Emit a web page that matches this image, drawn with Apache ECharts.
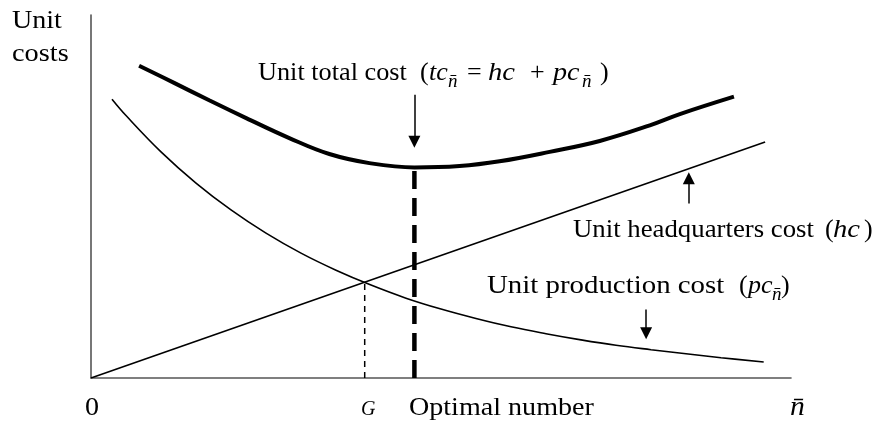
<!DOCTYPE html>
<html>
<head>
<meta charset="utf-8">
<script src="https://cdn.jsdelivr.net/npm/echarts@6/dist/echarts.min.js"></script>
<style>html,body{margin:0;padding:0;background:#fff}#c{width:874px;height:424px}</style>
</head>
<body>
<div id="c"></div>
<script>
// ---- data (values in chart units: x 0..100, y 0..100) ----
const hqX = [0, 96.3];
const hqY = [0, 65.0];
const prodX = [3, 5, 10, 15, 20, 25, 30, 35, 40, 45, 50, 55, 60, 65, 70, 75, 80, 85, 90, 96.1];
const prodY = [76.8, 72.3, 62.3, 53.7, 46.3, 39.9, 34.4, 29.7, 25.6, 22.0, 19.0, 16.4, 14.1, 12.2, 10.5, 9.0, 7.8, 6.7, 5.6, 4.4];
const totalX = [6.87, 11.87, 16.88, 22.17, 28.33, 34.05, 39.77, 46.21, 52.65, 58.37, 65.52, 72.68, 79.83, 84.12, 91.85];
const totalY = [86.0, 81.3, 76.5, 71.6, 66.1, 61.7, 59.2, 58.0, 58.4, 59.7, 62.3, 65.3, 69.6, 72.7, 77.5];
const gPoint = [39.1, 26.3];
const optPoint = [46.2, 58.0];
// arrows: [x, yFrom, yTo]
const arrowTotal = [46.2, 78.0, 65.1];
const arrowHQ = [85.4, 48.1, 55.0];
const arrowProd = [79.3, 18.9, 12.3];

const zip = (xs, ys) => xs.map((x, i) => [x, ys[i]]);
const arrowCoords = a => ({coords: [[a[0], a[1]], [a[0], a[2]]]});

const FONT = '"Liberation Serif","Times New Roman",serif';
function T(text, x, baseline, size, italic, sx, align) {
  return {
    type: 'text', silent: true,
    x: x, y: baseline - 0.3375 * size, scaleX: sx || 1, scaleY: 1,
    style: {
      text: text, x: 0, y: 0,
      font: (italic ? 'italic ' : '') + size + 'px ' + FONT,
      fill: '#000', align: align || 'left', verticalAlign: 'middle'
    }
  };
}
const NB = 'n\u0304';

const chart = echarts.init(document.getElementById('c'), null, {renderer: 'canvas'});
const axisCommon = {
  type: 'value', min: 0, max: 100,
  axisLine: {show: true, onZero: false, lineStyle: {color: '#555', width: 1.6}},
  axisTick: {show: false}, axisLabel: {show: false}, splitLine: {show: false}
};
chart.setOption({
  animation: false,
  backgroundColor: '#fff',
  grid: {left: 91, right: 83, top: 15, bottom: 46},
  xAxis: Object.assign({}, axisCommon),
  yAxis: Object.assign({}, axisCommon),
  series: [
    {type: 'line', data: zip(hqX, hqY), symbol: 'none', lineStyle: {color: '#000', width: 1.6}},
    {type: 'line', data: zip(prodX, prodY), symbol: 'none', smooth: 0.4, lineStyle: {color: '#000', width: 1.6}},
    {type: 'line', data: zip(totalX, totalY), symbol: 'none', smooth: 0.4, lineStyle: {color: '#000', width: 4}},
    {type: 'line', data: [[gPoint[0], 0], gPoint], symbol: 'none', lineStyle: {color: '#000', width: 1.5, type: [6, 5]}},
    {type: 'line', data: [[optPoint[0], 0], optPoint], symbol: 'none', lineStyle: {color: '#000', width: 4.5, type: [18, 9]}},
    {type: 'lines', coordinateSystem: 'cartesian2d', symbol: ['none', 'triangle'], symbolSize: [10, 12],
     lineStyle: {color: '#000', width: 1.5, opacity: 1, curveness: 0},
     data: [arrowCoords(arrowTotal), arrowCoords(arrowHQ), arrowCoords(arrowProd)]}
  ],
  graphic: [
    T('Unit', 12, 30, 26, false, 1.08), T('costs', 12, 63, 26, false, 1.09),
    T('Unit total cost', 258, 82, 26, false, 1.01),
    T('(', 420, 82, 26), T('tc', 429, 82, 26, true), T(NB, 448, 88, 19, true),
    T('=', 467, 82, 26), T('hc', 488, 82, 26, true, 1.1), T('+', 530, 82, 26),
    T('pc', 553, 82, 26, true, 1.08), T(NB, 582, 88, 19, true), T(')', 600, 82, 26),
    T('Unit headquarters cost', 573, 239, 26, false, 1.03),
    T('(', 825, 239, 26), T('hc', 833, 239, 26, true, 1.1), T(')', 864, 239, 26),
    T('Unit production cost', 487, 295, 26, false, 1.11),
    T('(', 739, 295, 26), T('pc', 748, 295, 26, true), T(NB, 772, 301, 19, true), T(')', 781, 295, 26),
    T('0', 92, 417, 26, false, 1.08, 'center'),
    T('G', 361, 416, 20, true),
    T('Optimal number', 409, 417, 26, false, 1.08),
    T(NB, 790, 417, 27, true, 1.1)
  ]
});
</script>
</body>
</html>
